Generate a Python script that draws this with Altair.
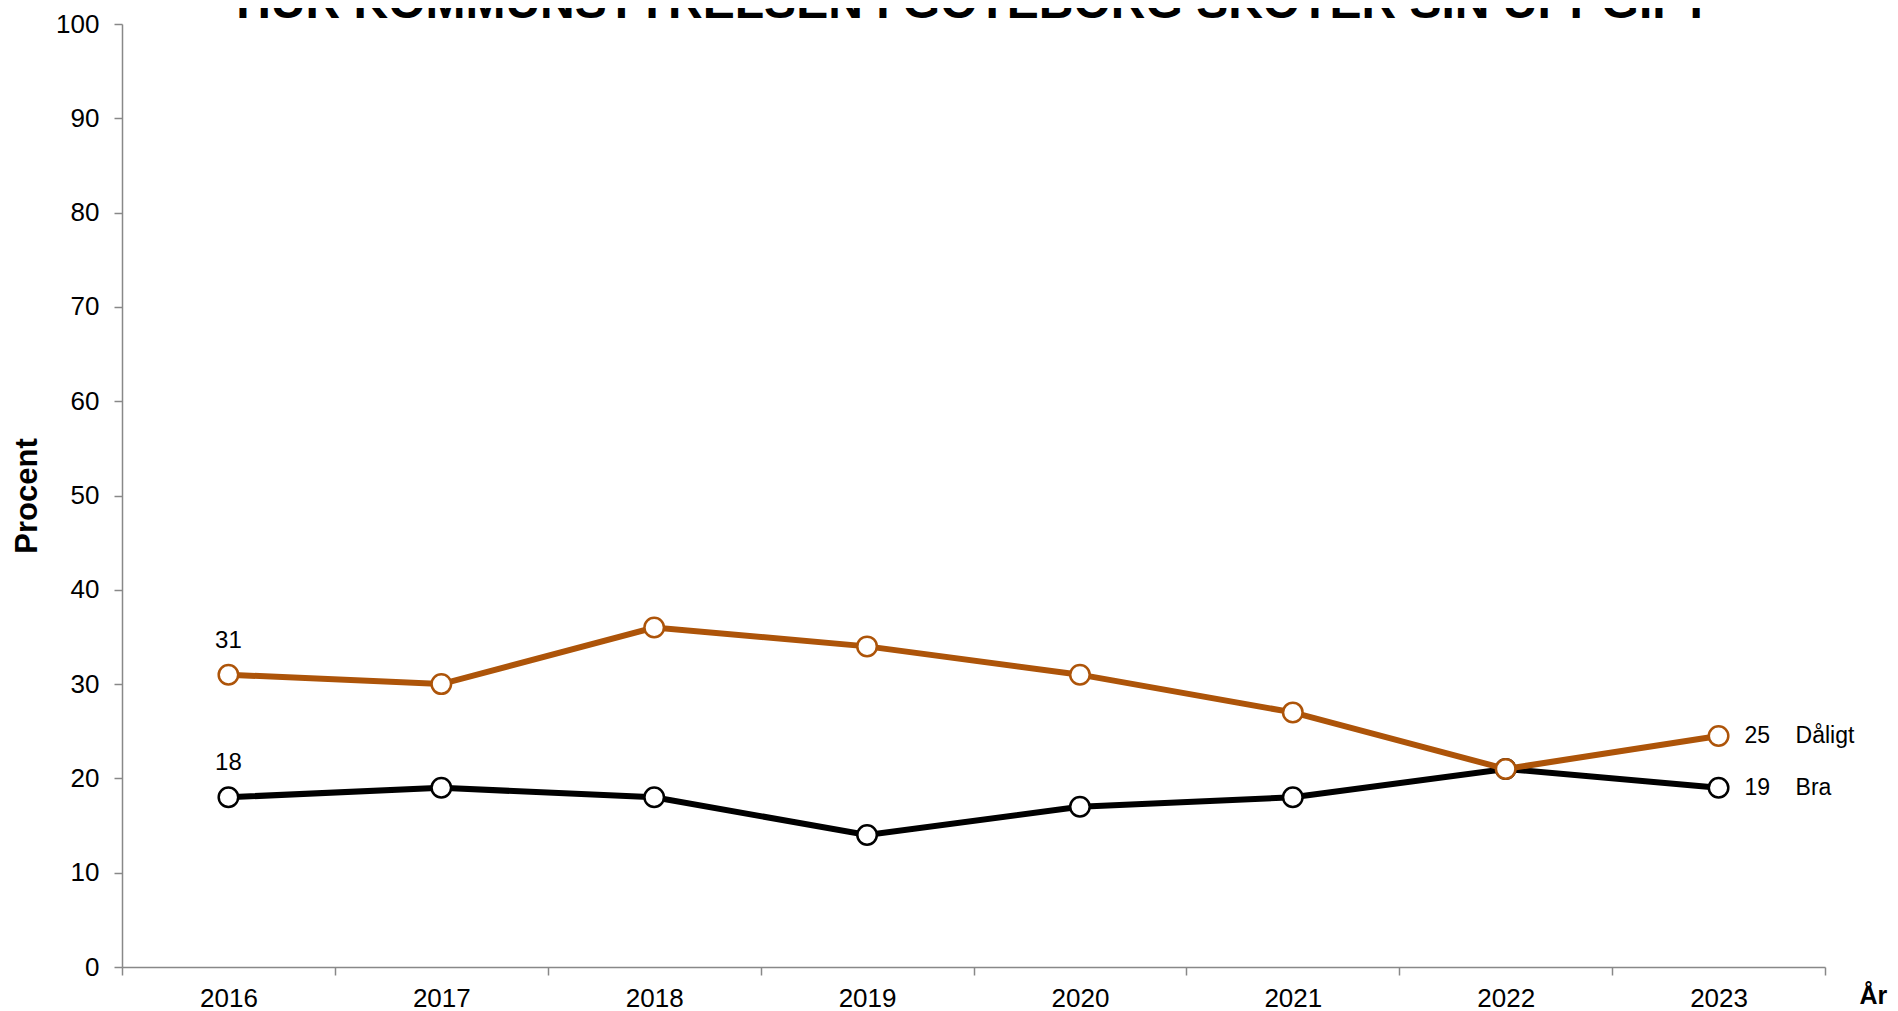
import altair as alt
import pandas as pd

years = ["2016", "2017", "2018", "2019", "2020", "2021", "2022", "2023"]
bra = [18, 19, 18, 14, 17, 18, 21, 19]
daligt = [31, 30, 36, 34, 31, 27, 21, 24.5]
series_names = ["Bra", "Dåligt"]
title_text = "HUR KOMMUNSTYRELSEN I GÖTEBORG SKÖTER SIN UPPGIFT"
y_ticks = list(range(0, 101, 10))

ORANGE = "#AD5409"
BLACK = "#000000"
GREY = "#888888"
FONT = "Liberation Sans"

rows = []
for s, vals in zip(series_names, [bra, daligt]):
    for i, (yr, v) in enumerate(zip(years, vals)):
        rows.append({"year": yr, "value": v, "series": s,
                     "first": i == 0, "last": i == len(years) - 1})
df = pd.DataFrame(rows)

W, H = 1703, 943

x_enc = alt.X("year:O", sort=years,
              scale=alt.Scale(paddingInner=0, paddingOuter=0),
              axis=alt.Axis(title="År", labelAngle=0, tickBand="extent",
                            labelFontSize=26, labelFont=FONT, labelColor="black",
                            labelPadding=10, tickSize=8, tickColor=GREY, domainColor=GREY,
                            domainWidth=1.5, tickWidth=1.5,
                            titleFontSize=25, titleFont=FONT, titleFontWeight="bold",
                            titleColor="black", titleX=1737, titleY=36,
                            titleAlign="left", titleBaseline="alphabetic"))
y_enc = alt.Y("value:Q", scale=alt.Scale(domain=[0, 100], nice=False),
              axis=alt.Axis(title="Procent", values=y_ticks, grid=False,
                            labelFontSize=26, labelFont=FONT, labelColor="black",
                            labelPadding=15, tickSize=8, tickColor=GREY, domainColor=GREY,
                            domainWidth=1.5, tickWidth=1.5,
                            titleFontSize=31, titleFont=FONT, titleFontWeight="bold",
                            titleColor="black", titleX=-95, titleY=H / 2,
                            titleAngle=-90, titleAlign="center", titleBaseline="middle"))

base = alt.Chart(df).encode(x=x_enc, y=y_enc)

def series_layers(name, color):
    d = base.transform_filter(alt.datum.series == name)
    line = d.mark_line(color=color, strokeWidth=6)
    pts = d.mark_point(filled=True, fill="white", stroke=color, strokeWidth=2.5,
                       size=380, opacity=1, shape="circle")
    first = d.transform_filter(alt.datum.first).mark_text(
        fontSize=24, font=FONT, color="black", dy=-34, align="center", baseline="middle"
    ).encode(text=alt.Text("value:Q", format=".0f"))
    last_val = d.transform_filter(alt.datum.last).mark_text(
        fontSize=23, font=FONT, color="black", dx=26, align="left", baseline="middle"
    ).encode(text=alt.Text("value:Q", format=".0f"))
    last_name = d.transform_filter(alt.datum.last).mark_text(
        fontSize=23, font=FONT, color="black", dx=77, align="left", baseline="middle"
    ).encode(text="series:N")
    return [line, pts, first, last_val, last_name]

title_df = pd.DataFrame({"t": [title_text]})
title = alt.Chart(title_df).mark_text(
    fontSize=48, font=FONT, fontWeight="bold", color="black",
    align="center", baseline="alphabetic"
).encode(text="t:N", x=alt.value(W / 2), y=alt.value(-6))

layers = series_layers("Bra", BLACK) + series_layers("Dåligt", ORANGE) + [title]

chart = alt.layer(*layers).properties(
    width=W, height=H,
    autosize=alt.AutoSizeParams(type="none"),
    padding={"left": 114, "top": 16, "right": 65, "bottom": 44},
    background="white",
).configure_view(stroke=None)

chart.save("out.html", embed_options={"renderer": "svg", "actions": False})
